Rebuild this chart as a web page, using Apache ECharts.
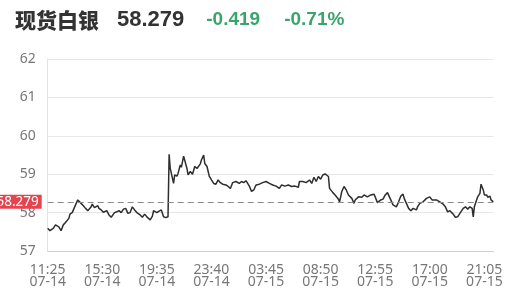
<!DOCTYPE html>
<html>
<head>
<meta charset="utf-8">
<script src="https://cdn.jsdelivr.net/npm/echarts@6/dist/echarts.min.js"></script>
<style>
  html, body { margin: 0; padding: 0; background: #fff; }
  #chart { width: 509px; height: 298px; }
</style>
</head>
<body>
<div id="chart"></div>
<script>
// header
const name = "现货白银";
const lastPrice = 58.279;
const change = "-0.419";
const changePct = "-0.71%";

// y axis
const yMin = 57;
const yMax = 62;

// 5-min slots, 11:25 07-14 -> 21:45 07-15, market break 05:00-05:55
const startTime = "2025-07-14T11:25:00";
const slotCount = 401;
const breakStart = "05:00";
const breakEnd = "06:00";

// [slot, price]
const slots = [0, 2, 5, 7, 8, 10, 12, 14, 16, 19, 20, 22, 25, 27, 28, 30, 32, 34, 36, 39,
  40, 42, 45, 46, 48, 50, 53, 55, 57, 60, 62, 64, 66, 68, 70, 72, 74, 76, 78, 80,
  83, 85, 87, 89, 92, 94, 95, 98, 100, 102, 104, 106, 108, 109, 110, 111, 113, 114, 116, 117,
  119, 120, 122, 123, 125, 126, 128, 130, 132, 134, 137, 138, 140, 141, 143, 145, 147, 149, 151, 153,
  155, 157, 160, 162, 164, 166, 169, 172, 174, 176, 178, 181, 183, 185, 187, 190, 193, 196, 199, 202,
  205, 208, 210, 213, 216, 219, 222, 225, 226, 229, 232, 235, 237, 239, 241, 243, 245, 247, 249, 250,
  252, 253, 256, 258, 259, 261, 262, 264, 266, 268, 270, 273, 275, 276, 279, 282, 284, 287, 290, 293,
  296, 299, 301, 303, 305, 308, 310, 313, 315, 317, 319, 320, 322, 324, 326, 328, 331, 332, 334, 337,
  340, 343, 345, 349, 352, 355, 357, 359, 361, 364, 366, 368, 370, 373, 375, 377, 379, 381, 382, 383,
  385, 386, 388, 389, 391, 392, 394, 395, 397, 398, 400];
const prices = [57.59, 57.53, 57.59, 57.68, 57.72, 57.63, 57.53, 57.68, 57.74, 57.85, 57.96, 58.00, 58.20, 58.33, 58.37, 58.24, 58.18, 58.11, 58.05, 58.15,
  58.22, 58.13, 58.18, 58.11, 58.07, 58.01, 58.05, 57.94, 57.88, 58.00, 58.02, 58.05, 58.00, 58.09, 58.11, 57.98, 58.00, 58.15, 58.07, 58.00,
  57.94, 57.88, 57.96, 57.89, 57.81, 57.91, 58.05, 58.00, 58.04, 58.07, 57.89, 57.87, 57.89, 59.52, 59.15, 59.11, 58.76, 58.98, 58.95, 59.02,
  59.24, 59.18, 59.47, 59.50, 59.15, 58.98, 59.07, 59.00, 59.20, 59.15, 59.27, 59.37, 59.50, 59.28, 59.20, 58.95, 58.85, 58.76, 58.74, 58.85,
  58.78, 58.74, 58.72, 58.68, 58.63, 58.78, 58.81, 58.76, 58.81, 58.78, 58.83, 58.69, 58.55, 58.59, 58.72, 58.74, 58.78, 58.81, 58.76, 58.72,
  58.69, 58.63, 58.72, 58.69, 58.72, 58.68, 58.69, 58.66, 58.81, 58.81, 58.78, 58.85, 58.76, 58.92, 58.81, 58.94, 58.87, 58.98, 59.01, 59.02,
  58.94, 58.63, 58.52, 58.46, 58.41, 58.35, 58.28, 58.55, 58.68, 58.59, 58.46, 58.37, 58.24, 58.33, 58.41, 58.40, 58.46, 58.41, 58.46, 58.48,
  58.26, 58.33, 58.35, 58.46, 58.52, 58.33, 58.20, 58.15, 58.28, 58.43, 58.48, 58.37, 58.24, 58.11, 58.05, 58.11, 58.07, 58.15, 58.24, 58.28,
  58.37, 58.41, 58.33, 58.33, 58.28, 58.22, 58.15, 58.02, 58.05, 57.96, 57.88, 57.89, 57.98, 58.11, 58.15, 58.09, 58.15, 58.11, 57.89, 58.15,
  58.33, 58.41, 58.50, 58.74, 58.59, 58.46, 58.46, 58.40, 58.43, 58.33, 58.279];

const pad = (n) => (n < 10 ? "0" : "") + n;

// build the slot labels
const times = [];
let t = new Date(startTime);
while (times.length < slotCount) {
  const hm = pad(t.getHours()) + ":" + pad(t.getMinutes());
  if (!(hm >= breakStart && hm < breakEnd)) {
    times.push(hm + "\n" + pad(t.getMonth() + 1) + "-" + pad(t.getDate()));
  }
  t = new Date(t.getTime() + 5 * 60 * 1000);
}

const seriesData = slots.map((s, i) => [s, prices[i]]);

const chart = echarts.init(document.getElementById("chart"));
chart.setOption({
  animation: false,
  title: {
    left: 15,
    top: 9,
    padding: 0,
    text: "{a|" + name + "}{b|" + lastPrice.toFixed(3) + "}{c|" + change + "}{d|" + changePct + "}",
    textStyle: {
      rich: {
        a: { fontSize: 21, fontWeight: 900, color: "#333", fontFamily: "Noto Sans CJK SC", padding: [0, 18, 0, 0] },
        b: { fontSize: 22, fontWeight: "bold", color: "#333", fontFamily: "Liberation Sans", padding: [0, 22, 0, 0] },
        c: { fontSize: 19, fontWeight: "bold", color: "#3aa46c", fontFamily: "Liberation Sans", padding: [0, 24, 0, 0] },
        d: { fontSize: 19, fontWeight: "bold", color: "#3aa46c", fontFamily: "Liberation Sans" }
      }
    }
  },
  grid: { left: 47.7, right: 15.7, top: 59, bottom: 47 },
  xAxis: {
    type: "category",
    boundaryGap: false,
    data: times,
    axisLine: { lineStyle: { color: "#cfcfcf" } },
    axisTick: { show: false },
    axisLabel: {
      interval: 48,
      color: "#777",
      fontSize: 14,
      lineHeight: 12,
      margin: 13,
      fontFamily: "Noto Sans"
    },
    splitLine: { show: false }
  },
  yAxis: {
    type: "value",
    min: yMin,
    max: yMax,
    interval: 1,
    axisLine: { show: true, lineStyle: { color: "#e3e3e3" } },
    axisTick: { show: false },
    axisLabel: { color: "#777", fontSize: 14, margin: 12, fontFamily: "Noto Sans" },
    splitLine: { lineStyle: { color: "#e6e6e6" } }
  },
  series: [{
    type: "line",
    data: seriesData,
    showSymbol: false,
    symbol: "none",
    lineStyle: { color: "#2e2e2e", width: 1.5 },
    markLine: {
      silent: true,
      symbol: "none",
      data: [{ yAxis: lastPrice }],
      lineStyle: { color: "#8a8a8a", type: [6, 4], width: 1 },
      label: {
        position: "start",
        distance: 6,
        formatter: lastPrice.toFixed(3),
        color: "#fff",
        backgroundColor: "#e5434e",
        fontSize: 13.5,
        fontFamily: "Noto Sans",
        padding: [0, 3, 0, 3]
      }
    }
  }]
});
</script>
</body>
</html>
